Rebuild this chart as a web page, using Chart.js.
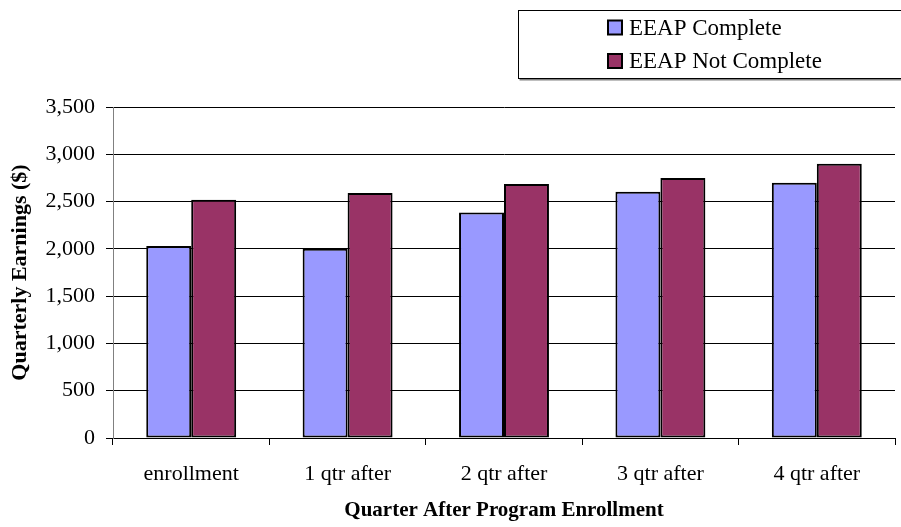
<!DOCTYPE html>
<html>
<head>
<meta charset="utf-8">
<script src="https://cdn.jsdelivr.net/npm/chart.js@4/dist/chart.umd.min.js"></script>
<style>
  html, body { margin: 0; padding: 0; background: #fff; }
  #wrap { width: 901px; height: 527px; position: relative; }
</style>
</head>
<body>
<div id="wrap"><canvas id="c" width="901" height="527"></canvas></div>
<script>
// Quarterly earnings by quarter after enrollment
const categories = ['enrollment', '1 qtr after', '2 qtr after', '3 qtr after', '4 qtr after'];
const eeapComplete = [2030, 2000, 2385, 2605, 2700];
const eeapNotComplete = [2520, 2590, 2685, 2750, 2900];
const seriesNames = ['EEAP Complete', 'EEAP Not Complete'];
const yTicks = [0, 500, 1000, 1500, 2000, 2500, 3000, 3500];

const FONT = '"Liberation Serif", "Times New Roman", serif';
const COLORS = ['#9999FF', '#993366'];

// Boxed legend in the top-right corner
const boxLegend = {
  id: 'boxLegend',
  afterDraw(chart) {
    const ctx = chart.ctx;
    ctx.save();
    const x0 = 518.5, y0 = 10.5, w = 400, h = 68;
    ctx.fillStyle = '#fff';
    ctx.fillRect(x0, y0, w, h);
    ctx.strokeStyle = '#808080';
    ctx.lineWidth = 2;
    ctx.beginPath();
    ctx.moveTo(x0 + 1, y0 + h + 1);
    ctx.lineTo(x0 + w, y0 + h + 1);
    ctx.stroke();
    ctx.strokeStyle = '#000';
    ctx.lineWidth = 1;
    ctx.strokeRect(x0, y0, w, h);
    ctx.font = '23px ' + FONT;
    ctx.textBaseline = 'middle';
    ctx.textAlign = 'left';
    const rows = [27.5, 61];
    chart.data.datasets.forEach((ds, i) => {
      const cy = rows[i];
      ctx.fillStyle = ds.backgroundColor;
      ctx.fillRect(608, cy - 7, 14, 14);
      ctx.strokeStyle = '#000';
      ctx.lineWidth = 2;
      ctx.strokeRect(608, cy - 7, 14, 14);
      ctx.fillStyle = '#000';
      ctx.fillText(ds.label, 629, cy + 1);
    });
    ctx.restore();
  }
};

new Chart(document.getElementById('c'), {
  type: 'bar',
  data: {
    labels: categories,
    datasets: [
      { label: seriesNames[0], data: eeapComplete, backgroundColor: COLORS[0], borderColor: '#000', borderWidth: 2, borderSkipped: false },
      { label: seriesNames[1], data: eeapNotComplete, backgroundColor: COLORS[1], borderColor: '#000', borderWidth: 2, borderSkipped: false }
    ]
  },
  options: {
    responsive: false,
    animation: false,
    devicePixelRatio: 1,
    layout: { padding: { top: 107, right: 6, left: 0, bottom: 0 } },
    plugins: { legend: { display: false }, tooltip: { enabled: false } },
    datasets: { bar: { categoryPercentage: 0.575, barPercentage: 1.0 } },
    scales: {
      x: {
        afterFit(scale) { scale.height = 89; },
        grid: { drawOnChartArea: false, drawTicks: true, tickLength: 7, color: '#000', offset: true },
        border: { color: '#000', width: 1 },
        ticks: { color: '#000', font: { family: FONT, size: 22 }, padding: 16, maxRotation: 0 },
        title: { display: true, text: 'Quarter After Program Enrollment', color: '#000',
                 font: { family: FONT, size: 21, weight: 'bold' }, padding: { top: 8, bottom: 4 } }
      },
      y: {
        min: 0, max: 3500,
        afterFit(scale) { scale.width = 113; },
        afterBuildTicks(scale) { scale.ticks = yTicks.map(v => ({ value: v })); },
        grid: { color: '#000', lineWidth: 1, drawTicks: true, tickLength: 7 },
        border: { color: '#808080', width: 1 },
        ticks: { color: '#000', font: { family: FONT, size: 22 }, padding: 11,
                 callback: v => v.toLocaleString('en-US') },
        title: { display: true, text: 'Quarterly Earnings ($)', color: '#000',
                 font: { family: FONT, size: 22, weight: 'bold' }, padding: { top: 7, bottom: 0 } }
      }
    }
  },
  plugins: [boxLegend]
});
</script>
</body>
</html>
